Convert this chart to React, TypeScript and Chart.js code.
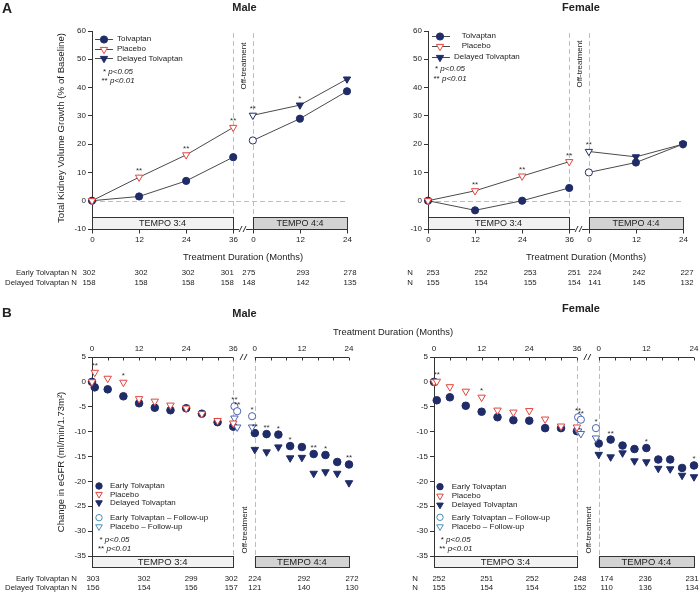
import React, { useEffect, useRef } from 'react';
import { Chart, registerables } from 'chart.js';

Chart.register(...registerables);

const FONT = '"Liberation Sans", Arial, Helvetica, sans-serif';
Chart.defaults.font.family = FONT;

// ---------- colours ----------
const NAVY = '#1f2c68';
const RED = '#e3453d';
const FU_COLOR = '#4d62b3';
const FU_LEGEND = '#4a8fb0';
const LINE_COLOR = '#4a4a4a';
const AXIS_COLOR = '#333333';
const DASH_COLOR = '#bdbdbd';
const TEXT_COLOR = '#222222';

// ---------- Panel A : total kidney volume growth (% of baseline) ----------
const tkvMonths34 = [0, 12, 24, 36];
const tkvMonths44 = [0, 12, 24];
const tkvTickLabels = ['0', '12', '24', '36', '0', '12', '24'];

const maleTkvTolvaptan = [0, 1.5, 7.0, 15.4];
const maleTkvPlacebo = [0, 8.3, 16.2, 25.9];
const maleTkvTolvaptan44 = [21.3, 29.0, 38.7];
const maleTkvDelayed44 = [30.2, 33.8, 43.0];
const maleTkvPlaceboSig = ['', '**', '**', '**'];
const maleTkvDelayedSig = ['**', '*', ''];

const femaleTkvTolvaptan = [0, -3.4, 0.0, 4.5];
const femaleTkvPlacebo = [0, 3.5, 8.7, 13.8];
const femaleTkvTolvaptan44 = [10.0, 13.5, 20.0];
const femaleTkvDelayed44 = [17.4, 15.5, 20.0];
const femaleTkvPlaceboSig = ['', '**', '**', '**'];
const femaleTkvDelayedSig = ['**', '', ''];

const maleTkvEarlyN = [302, 302, 302, 301, 275, 293, 278];
const maleTkvDelayedN = [158, 158, 158, 158, 148, 142, 135];
const femaleTkvEarlyN = [253, 252, 253, 251, 224, 242, 227];
const femaleTkvDelayedN = [155, 154, 155, 154, 141, 145, 132];

// ---------- Panel B : change in eGFR ----------
const egfrMonths34 = [0, 0.7, 4, 8, 12, 16, 20, 24, 28, 32, 36];
const egfrMonths44 = [0, 3, 6, 9, 12, 15, 18, 21, 24];
const egfrFollowUpMonths34 = [36.3, 37.0];
const egfrFollowUpMonths44 = [-0.7];
const egfrTickLabels = ['0', '12', '24', '36', '0', '12', '24'];

const maleEgfrTolvaptan = [0, -1.1, -1.5, -2.9, -4.3, -5.2, -5.7, -5.3, -6.4, -8.1, -9.0];
const maleEgfrPlacebo = [0, 1.9, 0.7, -0.1, -3.4, -3.9, -4.7, -5.3, -6.4, -7.8, -8.3];
const maleEgfrPlaceboSig = ['', '**', '', '*', '', '', '', '', '', '', ''];
const maleEgfrTolvaptan44 = [-10.3, -10.5, -10.6, -12.9, -13.1, -14.5, -14.7, -16.1, -16.6];
const maleEgfrDelayed44 = [-13.6, -14.1, -13.1, -15.3, -15.2, -18.4, -18.1, -18.4, -20.3];
const maleEgfrTolvaptan44Sig = ['**', '**', '*', '*', '', '**', '*', '', '**'];
const maleEgfrFollowUpTolvaptan = [-4.9, -5.9, -6.9];
const maleEgfrFollowUpPlacebo = [-7.3, -9.1, -9.1];
const maleEgfrFollowUpSig = ['**', '**', '*'];

const femaleEgfrTolvaptan = [0, -3.7, -3.1, -4.8, -6.0, -7.1, -7.7, -7.8, -9.3, -9.3, -9.9];
const femaleEgfrPlacebo = [0, 0.1, -1.0, -1.9, -3.1, -5.7, -6.1, -5.8, -7.5, -8.9, -9.1];
const femaleEgfrPlaceboSig = ['', '**', '', '', '*', '', '', '', '', '', ''];
const femaleEgfrTolvaptan44 = [-12.4, -11.6, -12.8, -13.5, -13.3, -15.6, -15.6, -17.3, -16.8];
const femaleEgfrDelayed44 = [-14.6, -15.1, -14.3, -15.9, -16.1, -17.4, -17.5, -18.8, -19.1];
const femaleEgfrTolvaptan44Sig = ['', '**', '', '', '*', '', '', '', '*'];
const femaleEgfrFollowUpTolvaptan = [-7.1, -7.6, -9.3];
const femaleEgfrFollowUpPlacebo = [-9.9, -10.4, -11.3];
const femaleEgfrFollowUpSig = ['**', '**', '*'];

const maleEgfrEarlyN = [303, 302, 299, 302, 224, 292, 272];
const maleEgfrDelayedN = [156, 154, 156, 157, 121, 140, 130];
const femaleEgfrEarlyN = [252, 251, 252, 248, 174, 236, 231];
const femaleEgfrDelayedN = [155, 154, 154, 152, 110, 136, 134];

// positions of TEMPO 4:4 month 0 on the continuous (broken) axis
const TKV_OFFSET = 41;
const EGFR_OFFSET = 41.5;

// ---------- drawing helpers ----------
function txt(ctx: any, s: string, x: number, y: number, o: any = {}) {
  ctx.save();
  ctx.font = `${o.italic ? 'italic ' : ''}${o.bold ? 'bold ' : ''}${o.size ?? 8}px ${FONT}`;
  ctx.fillStyle = o.color ?? TEXT_COLOR;
  ctx.textAlign = o.align ?? 'left';
  ctx.textBaseline = o.baseline ?? 'middle';
  ctx.translate(x, y);
  if (o.rot) ctx.rotate(o.rot);
  ctx.fillText(s, 0, 0);
  ctx.restore();
}

function seg(ctx: any, x1: number, y1: number, x2: number, y2: number) {
  ctx.beginPath();
  ctx.moveTo(x1, y1);
  ctx.lineTo(x2, y2);
  ctx.stroke();
}

function marker(ctx: any, kind: string, x: number, y: number, r: number, fill: string, stroke: string) {
  ctx.save();
  ctx.beginPath();
  if (kind === 'circle') ctx.arc(x, y, r, 0, Math.PI * 2);
  else {
    ctx.moveTo(x, y + r);
    ctx.lineTo(x - r * 0.866, y - r * 0.5);
    ctx.lineTo(x + r * 0.866, y - r * 0.5);
    ctx.closePath();
  }
  ctx.fillStyle = fill;
  ctx.fill();
  ctx.lineWidth = 1;
  ctx.strokeStyle = stroke;
  ctx.stroke();
  ctx.restore();
}

function tempoBox(ctx: any, x1: number, y1: number, x2: number, y2: number, fill: string, label: string, size: number) {
  ctx.save();
  ctx.fillStyle = fill;
  ctx.fillRect(x1, y1, x2 - x1, y2 - y1);
  ctx.strokeStyle = AXIS_COLOR;
  ctx.lineWidth = 1;
  ctx.strokeRect(Math.round(x1) + 0.5, Math.round(y1) + 0.5, Math.round(x2 - x1), Math.round(y2 - y1));
  ctx.restore();
  txt(ctx, label, (x1 + x2) / 2, (y1 + y2) / 2 + 0.5, { size, align: 'center' });
}

function breakMark(ctx: any, cx: number, cy: number) {
  ctx.save();
  ctx.strokeStyle = AXIS_COLOR;
  ctx.lineWidth = 1;
  seg(ctx, cx - 4, cy + 3, cx - 1, cy - 3);
  seg(ctx, cx, cy + 3, cx + 3, cy - 3);
  ctx.restore();
}

function sigLegend(ctx: any, x: number, y: number, stars: string, label: string, size: number) {
  ctx.save();
  ctx.font = `${size}px ${FONT}`;
  const w = ctx.measureText(stars + ' ').width;
  ctx.restore();
  txt(ctx, stars + ' ', x, y, { size });
  txt(ctx, label, x + w, y, { size, italic: true });
}

function drawStars(chart: any, lift: number, size: number) {
  const ctx = chart.ctx;
  chart.data.datasets.forEach((ds: any, i: number) => {
    if (!ds.sig) return;
    const meta = chart.getDatasetMeta(i);
    meta.data.forEach((el: any, j: number) => {
      const s = ds.sig[j];
      if (!s) return;
      txt(ctx, s, el.x, el.y - lift, { size, align: 'center', baseline: 'alphabetic', color: '#333' });
    });
  });
}

function nRows(ctx: any, xs: any, positions: number[], dx: number[], rows: any[], size: number) {
  rows.forEach((r: any) => {
    txt(ctx, r.label, r.labelX, r.y, { size, align: 'right' });
    r.values.forEach((v: number, i: number) => {
      txt(ctx, String(v), xs.getPixelForValue(positions[i]) + dx[i], r.y, { size, align: 'center' });
    });
  });
}

// ---------- Panel A config ----------
function tkvChart(canvas: HTMLCanvasElement, p: any) {
  const pts = (months: number[], vals: number[], shift = 0) => months.map((m, i) => ({ x: m + shift, y: vals[i] }));
  const tolvData = [...pts(tkvMonths34, p.tolv), { x: 38.5, y: null }, ...pts(tkvMonths44, p.tolv44, TKV_OFFSET)];
  const gapIdx = tkvMonths34.length;
  const tolvFill = tolvData.map((_, i) => (i === gapIdx + 1 ? '#ffffff' : NAVY));
  const delayedFill = tkvMonths44.map((_, i) => (i === 0 ? '#ffffff' : NAVY));
  const tickPos = [...tkvMonths34, ...tkvMonths44.map((m) => m + TKV_OFFSET)];

  const decor = {
    id: 'tkvDecor',
    beforeDatasetsDraw(chart: any) {
      const { ctx, chartArea: ca } = chart;
      const xs = chart.scales.x;
      const ys = chart.scales.y;
      const x36 = xs.getPixelForValue(36);
      const xb = xs.getPixelForValue(TKV_OFFSET);
      const xe = xs.getPixelForValue(TKV_OFFSET + 24);
      const boxTop = ca.bottom - 12;
      ctx.save();
      ctx.strokeStyle = DASH_COLOR;
      ctx.lineWidth = 1;
      ctx.setLineDash([5, 3]);
      const y0 = Math.round(ys.getPixelForValue(0)) + 0.5;
      seg(ctx, ca.left, y0, ca.right, y0);
      seg(ctx, Math.round(x36) + 0.5, ca.top + 2, Math.round(x36) + 0.5, boxTop);
      seg(ctx, Math.round(xb) + 0.5, ca.top + 2, Math.round(xb) + 0.5, boxTop);
      ctx.setLineDash([]);
      ctx.restore();
      tempoBox(ctx, ca.left, boxTop, x36, ca.bottom, '#f2f2f2', 'TEMPO 3:4', 9);
      tempoBox(ctx, xb, boxTop, xe, ca.bottom, '#d3d3d3', 'TEMPO 4:4', 9);
      // bottom axis ticks and labels
      ctx.save();
      ctx.strokeStyle = AXIS_COLOR;
      ctx.lineWidth = 1;
      const yb = Math.round(ca.bottom) + 0.5;
      seg(ctx, x36, yb, xb, yb);
      tickPos.forEach((v, i) => {
        const px = Math.round(xs.getPixelForValue(v)) + 0.5;
        seg(ctx, px, yb, px, yb + 4);
        txt(ctx, tkvTickLabels[i], px, ca.bottom + 11, { size: 8, align: 'center' });
      });
      ctx.restore();
      ctx.save();
      ctx.fillStyle = '#ffffff';
      ctx.fillRect((x36 + xb) / 2 - 4, ca.bottom - 2, 7, 4);
      ctx.restore();
      breakMark(ctx, (x36 + xb) / 2, ca.bottom);
    },
    afterDatasetsDraw(chart: any) {
      drawStars(chart, 4, 8);
    },
    afterDraw(chart: any) {
      const { ctx } = chart;
      const xs = chart.scales.x;
      const x36 = xs.getPixelForValue(36);
      const xb = xs.getPixelForValue(TKV_OFFSET);
      if (p.panelLetter) txt(ctx, p.panelLetter, 2, 13, { size: 14, bold: true, baseline: 'alphabetic' });
      txt(ctx, p.title, p.titleX, 10.5, { size: 11, bold: true, align: 'center', baseline: 'alphabetic' });
      if (p.yTitle) txt(ctx, p.yTitle, 61, 128, { size: 9.7, align: 'center', rot: -Math.PI / 2 });
      txt(ctx, 'Off-treatment', (x36 + xb) / 2 + 0.5, p.offY, { size: 8, align: 'center', rot: -Math.PI / 2 });
      txt(ctx, 'Treatment Duration (Months)', p.xTitleX, 257.5, { size: 9.4, align: 'center' });
      // legend
      const lg = p.legend;
      const rows = [
        { label: 'Tolvaptan', kind: 'circle', fill: NAVY, stroke: NAVY },
        { label: 'Placebo', kind: 'tri', fill: '#ffffff', stroke: RED },
        { label: 'Delayed Tolvaptan', kind: 'tri', fill: NAVY, stroke: NAVY },
      ];
      rows.forEach((r, i) => {
        const y = lg.ys[i];
        ctx.save();
        ctx.strokeStyle = LINE_COLOR;
        ctx.lineWidth = 1;
        seg(ctx, lg.x1, Math.round(y) + 0.5, lg.x2, Math.round(y) + 0.5);
        ctx.restore();
        marker(ctx, r.kind, lg.mx, Math.round(y) + 0.5, r.kind === 'circle' ? 3.6 : 4.2, r.fill, r.stroke);
        txt(ctx, r.label, lg.tx[i], y, { size: 8 });
      });
      sigLegend(ctx, lg.sx, lg.sy[0], '*', 'p<0.05', 8);
      sigLegend(ctx, lg.sx - 1.5, lg.sy[1], '**', 'p<0.01', 8);
      nRows(ctx, xs, tickPos, p.nDx, [
        { label: p.earlyLabel, labelX: p.nLabelX, y: 272.7, values: p.earlyN },
        { label: p.delayedLabel, labelX: p.nLabelX, y: 282.5, values: p.delayedN },
      ], 7.8);
    },
  };

  return new Chart(canvas, {
    type: 'line',
    data: {
      datasets: [
        {
          label: 'Placebo', data: pts(tkvMonths34, p.placebo), order: 0, sig: p.placeboSig,
          borderColor: LINE_COLOR, borderWidth: 1, pointStyle: 'triangle', pointRotation: 180, pointRadius: 4.2,
          pointBackgroundColor: '#ffffff', pointBorderColor: RED, pointBorderWidth: 1, clip: false,
        },
        {
          label: 'Delayed Tolvaptan', data: pts(tkvMonths44, p.delayed44, TKV_OFFSET), order: 1, sig: p.delayedSig,
          borderColor: LINE_COLOR, borderWidth: 1, pointStyle: 'triangle', pointRotation: 180, pointRadius: 4.2,
          pointBackgroundColor: delayedFill, pointBorderColor: NAVY, pointBorderWidth: 1, clip: false,
        },
        {
          label: 'Tolvaptan', data: tolvData, order: 2, spanGaps: false,
          borderColor: LINE_COLOR, borderWidth: 1, pointStyle: 'circle', pointRadius: 3.6,
          pointBackgroundColor: tolvFill, pointBorderColor: NAVY, pointBorderWidth: 1, clip: false,
        },
      ] as any,
    },
    options: {
      animation: false,
      responsive: false,
      devicePixelRatio: 1,
      events: [],
      layout: { padding: p.pad },
      plugins: { legend: { display: false }, tooltip: { enabled: false } },
      scales: {
        x: { type: 'linear', min: 0, max: TKV_OFFSET + 24, display: false },
        y: {
          min: -10, max: 60,
          ticks: { stepSize: 10, font: { size: 8 }, color: TEXT_COLOR, padding: 2 },
          grid: { drawOnChartArea: false, tickLength: 4, color: AXIS_COLOR },
          border: { color: AXIS_COLOR, width: 1 },
          afterFit: (s: any) => { s.width = 30; },
        },
      },
    } as any,
    plugins: [decor],
  });
}

// ---------- Panel B config ----------
function egfrChart(canvas: HTMLCanvasElement, p: any) {
  const pts = (months: number[], vals: number[], shift = 0) => months.map((m, i) => ({ x: m + shift, y: vals[i] }));
  const fuX = [...egfrFollowUpMonths34, ...egfrFollowUpMonths44.map((m) => m + EGFR_OFFSET)];
  const fuPts = (vals: number[]) => fuX.map((x, i) => ({ x, y: vals[i] }));
  const nPos = [0, 12, 24, 36, EGFR_OFFSET, EGFR_OFFSET + 12, EGFR_OFFSET + 24];
  const common = { showLine: false, pointBorderWidth: 1, clip: false };

  const decor = {
    id: 'egfrDecor',
    beforeDatasetsDraw(chart: any) {
      const { ctx, chartArea: ca } = chart;
      const xs = chart.scales.x;
      const x36 = xs.getPixelForValue(36);
      const xb = xs.getPixelForValue(EGFR_OFFSET);
      const xe = xs.getPixelForValue(EGFR_OFFSET + 24);
      ctx.save();
      ctx.strokeStyle = DASH_COLOR;
      ctx.lineWidth = 1;
      ctx.setLineDash([5, 3]);
      seg(ctx, Math.round(x36) + 0.5, ca.top + 1, Math.round(x36) + 0.5, ca.bottom);
      seg(ctx, Math.round(xb) + 0.5, ca.top + 1, Math.round(xb) + 0.5, ca.bottom);
      ctx.setLineDash([]);
      ctx.restore();
      tempoBox(ctx, ca.left, ca.bottom, x36, ca.bottom + 11, '#f2f2f2', 'TEMPO 3:4', 9.5);
      tempoBox(ctx, xb, ca.bottom, xe, ca.bottom + 11, '#d3d3d3', 'TEMPO 4:4', 9.5);
      // top axis
      ctx.save();
      ctx.strokeStyle = AXIS_COLOR;
      ctx.lineWidth = 1;
      const yt = Math.round(ca.top) + 0.5;
      seg(ctx, ca.left, yt, x36, yt);
      seg(ctx, xb, yt, xe, yt);
      const minor: number[] = [];
      for (let m = 0; m <= 36; m += 4) minor.push(m);
      for (let m = 0; m <= 24; m += 4) minor.push(m + EGFR_OFFSET);
      minor.forEach((v) => {
        const px = Math.round(xs.getPixelForValue(v)) + 0.5;
        seg(ctx, px, yt, px, yt + 3);
      });
      ctx.restore();
      [0, 12, 24, 36, EGFR_OFFSET, EGFR_OFFSET + 12, EGFR_OFFSET + 24].forEach((v, i) => {
        txt(ctx, egfrTickLabels[i], xs.getPixelForValue(v), ca.top - 8, { size: 8, align: 'center' });
      });
      breakMark(ctx, (x36 + xb) / 2, ca.top);
    },
    afterDatasetsDraw(chart: any) {
      drawStars(chart, 4, 8);
    },
    afterDraw(chart: any) {
      const { ctx } = chart;
      const xs = chart.scales.x;
      const x36 = xs.getPixelForValue(36);
      const xb = xs.getPixelForValue(EGFR_OFFSET);
      if (p.panelLetter) txt(ctx, p.panelLetter, 2, 22, { size: 13.5, bold: true, baseline: 'alphabetic' });
      txt(ctx, p.title, p.titleX, p.titleY, { size: 11, bold: true, align: 'center', baseline: 'alphabetic' });
      if (p.yTitle) txt(ctx, p.yTitle, 61, 167, { size: 9.5, align: 'center', rot: -Math.PI / 2 });
      txt(ctx, 'Off-treatment', (x36 + xb) / 2 + 0.5, 235, { size: 8, align: 'center', rot: -Math.PI / 2 });
      // legend
      const lg = p.legend;
      const rows = [
        { label: 'Early Tolvaptan', kind: 'circle', fill: NAVY, stroke: NAVY },
        { label: 'Placebo', kind: 'tri', fill: '#ffffff', stroke: RED },
        { label: 'Delayed Tolvaptan', kind: 'tri', fill: NAVY, stroke: NAVY },
        { label: 'Early Tolvaptan \u2013 Follow-up', kind: 'circle', fill: '#ffffff', stroke: FU_LEGEND },
        { label: 'Placebo \u2013 Follow-up', kind: 'tri', fill: '#ffffff', stroke: FU_LEGEND },
      ];
      rows.forEach((r, i) => {
        marker(ctx, r.kind, lg.mx, lg.ys[i], r.kind === 'circle' ? 3.2 : 3.8, r.fill, r.stroke);
        txt(ctx, r.label, lg.tx, lg.ys[i], { size: 8 });
      });
      sigLegend(ctx, lg.sx, lg.sy[0], '*', 'p<0.05', 8);
      sigLegend(ctx, lg.sx - 1.5, lg.sy[1], '**', 'p<0.01', 8);
      nRows(ctx, xs, nPos, p.nDx, [
        { label: p.earlyLabel, labelX: p.nLabelX, y: 284, values: p.earlyN },
        { label: p.delayedLabel, labelX: p.nLabelX, y: 292.8, values: p.delayedN },
      ], 7.8);
    },
  };

  return new Chart(canvas, {
    type: 'line',
    data: {
      datasets: [
        {
          ...common, label: 'Placebo', data: pts(egfrMonths34, p.placebo), order: 0, sig: p.placeboSig,
          pointStyle: 'triangle', pointRotation: 180, pointRadius: 4.3, pointBackgroundColor: '#ffffff', pointBorderColor: RED,
        },
        {
          ...common, label: 'Placebo \u2013 Follow-up', data: fuPts(p.fuPlacebo), order: 0,
          pointStyle: 'triangle', pointRotation: 180, pointRadius: 4.3, pointBackgroundColor: '#ffffff', pointBorderColor: FU_COLOR,
        },
        {
          ...common, label: 'Early Tolvaptan \u2013 Follow-up', data: fuPts(p.fuTolv), order: 0, sig: p.fuSig,
          pointStyle: 'circle', pointRadius: 3.6, pointBackgroundColor: '#ffffff', pointBorderColor: FU_COLOR,
        },
        {
          ...common, label: 'Early Tolvaptan', data: pts(egfrMonths34, p.tolv), order: 1,
          pointStyle: 'circle', pointRadius: 3.8, pointBackgroundColor: NAVY, pointBorderColor: NAVY,
        },
        {
          ...common, label: 'Early Tolvaptan 4:4', data: pts(egfrMonths44, p.tolv44, EGFR_OFFSET), order: 1, sig: p.tolv44Sig,
          pointStyle: 'circle', pointRadius: 3.8, pointBackgroundColor: NAVY, pointBorderColor: NAVY,
        },
        {
          ...common, label: 'Delayed Tolvaptan', data: pts(egfrMonths44, p.delayed44, EGFR_OFFSET), order: 1,
          pointStyle: 'triangle', pointRotation: 180, pointRadius: 4.3, pointBackgroundColor: NAVY, pointBorderColor: NAVY,
        },
      ] as any,
    },
    options: {
      animation: false,
      responsive: false,
      devicePixelRatio: 1,
      events: [],
      layout: { padding: p.pad },
      plugins: { legend: { display: false }, tooltip: { enabled: false } },
      scales: {
        x: { type: 'linear', min: 0, max: EGFR_OFFSET + 24, display: false },
        y: {
          min: -35, max: 5,
          ticks: { stepSize: 5, font: { size: 8 }, color: TEXT_COLOR, padding: 2 },
          grid: { drawOnChartArea: false, tickLength: 4, color: AXIS_COLOR },
          border: { color: AXIS_COLOR, width: 1 },
          afterFit: (s: any) => { s.width = 30; },
        },
      },
    } as any,
    plugins: [decor],
  });
}

// ---------- panel definitions (built from the arrays above) ----------
const panels = [
  {
    key: 'tkvMale', left: 0, top: 0, width: 366, height: 295, make: tkvChart,
    p: {
      panelLetter: 'A', title: 'Male', titleX: 244.5, yTitle: 'Total Kidney Volume Growth (% of Baseline)',
      tolv: maleTkvTolvaptan, placebo: maleTkvPlacebo, tolv44: maleTkvTolvaptan44, delayed44: maleTkvDelayed44,
      placeboSig: maleTkvPlaceboSig, delayedSig: maleTkvDelayedSig,
      earlyN: maleTkvEarlyN, delayedN: maleTkvDelayedN, earlyLabel: 'Early Tolvaptan N', delayedLabel: 'Delayed Tolvaptan N',
      nLabelX: 77, nDx: [-3, 2, 2, -6, -4, 3, 3], offY: 66, xTitleX: 243,
      pad: { left: 62, right: 19, top: 31, bottom: 66 },
      legend: { x1: 95, x2: 113, mx: 104, tx: [117, 117, 117], ys: [39, 48.7, 58.3], sx: 103, sy: [72, 81] },
    },
  },
  {
    key: 'tkvFemale', left: 350, top: 0, width: 350, height: 295, make: tkvChart,
    p: {
      panelLetter: '', title: 'Female', titleX: 231, yTitle: '',
      tolv: femaleTkvTolvaptan, placebo: femaleTkvPlacebo, tolv44: femaleTkvTolvaptan44, delayed44: femaleTkvDelayed44,
      placeboSig: femaleTkvPlaceboSig, delayedSig: femaleTkvDelayedSig,
      earlyN: femaleTkvEarlyN, delayedN: femaleTkvDelayedN, earlyLabel: 'N', delayedLabel: 'N',
      nLabelX: 63, nDx: [5, 6, 8, 5, 6, 3, 4], offY: 64, xTitleX: 236,
      pad: { left: 48, right: 17, top: 31, bottom: 66 },
      legend: { x1: 82, x2: 100, mx: 90, tx: [111.7, 111.7, 104], ys: [36, 45.7, 56.7], sx: 85, sy: [69, 79] },
    },
  },
  {
    key: 'egfrMale', left: 0, top: 295, width: 366, height: 302, make: egfrChart,
    p: {
      panelLetter: 'B', title: 'Male', titleX: 244.5, titleY: 22, yTitle: 'Change in eGFR (ml/min/1.73m\u00b2)',
      tolv: maleEgfrTolvaptan, placebo: maleEgfrPlacebo, placeboSig: maleEgfrPlaceboSig,
      tolv44: maleEgfrTolvaptan44, delayed44: maleEgfrDelayed44, tolv44Sig: maleEgfrTolvaptan44Sig,
      fuTolv: maleEgfrFollowUpTolvaptan, fuPlacebo: maleEgfrFollowUpPlacebo, fuSig: maleEgfrFollowUpSig,
      earlyN: maleEgfrEarlyN, delayedN: maleEgfrDelayedN, earlyLabel: 'Early Tolvaptan N', delayedLabel: 'Delayed Tolvaptan N',
      nLabelX: 77, nDx: [1, 5, 5, -2, 0, 2, 3],
      pad: { left: 62, right: 17, top: 62, bottom: 41 },
      legend: { mx: 99, tx: 110, ys: [191, 199.3, 207.7, 222.7, 231.7], sx: 99.5, sy: [244.3, 253.3] },
    },
  },
  {
    key: 'egfrFemale', left: 350, top: 295, width: 350, height: 302, make: egfrChart,
    p: {
      panelLetter: '', title: 'Female', titleX: 231, titleY: 17, yTitle: '',
      tolv: femaleEgfrTolvaptan, placebo: femaleEgfrPlacebo, placeboSig: femaleEgfrPlaceboSig,
      tolv44: femaleEgfrTolvaptan44, delayed44: femaleEgfrDelayed44, tolv44Sig: femaleEgfrTolvaptan44Sig,
      fuTolv: femaleEgfrFollowUpTolvaptan, fuPlacebo: femaleEgfrFollowUpPlacebo, fuSig: femaleEgfrFollowUpSig,
      earlyN: femaleEgfrEarlyN, delayedN: femaleEgfrDelayedN, earlyLabel: 'N', delayedLabel: 'N',
      nLabelX: 68, nDx: [5, 5, 3, 3, 8, -1, -2],
      pad: { left: 54, right: 6, top: 62, bottom: 41 },
      legend: { mx: 90, tx: 101.7, ys: [191.7, 201, 210, 222.3, 231.7], sx: 90.7, sy: [244.3, 253.3] },
    },
  },
];

function Panel({ left, top, width, height, make, p }: any) {
  const ref = useRef<HTMLCanvasElement>(null);
  useEffect(() => {
    const chart = make(ref.current, p);
    return () => chart.destroy();
  }, []);
  return (
    <canvas
      ref={ref}
      width={width}
      height={height}
      style={{ position: 'absolute', left, top, width, height, display: 'block' }}
    />
  );
}

export default function App() {
  useEffect(() => {
    document.body.style.margin = '0';
    document.body.style.background = '#ffffff';
  }, []);
  return (
    <div style={{ position: 'relative', width: 700, height: 597, background: '#ffffff', overflow: 'hidden' }}>
      {panels.map((pl) => (
        <Panel key={pl.key} {...pl} />
      ))}
      <div
        style={{
          position: 'absolute', left: 393, top: 326, transform: 'translateX(-50%)', whiteSpace: 'nowrap',
          fontFamily: FONT, fontSize: '9.4px', lineHeight: '12px', color: TEXT_COLOR,
        }}
      >
        Treatment Duration (Months)
      </div>
    </div>
  );
}
